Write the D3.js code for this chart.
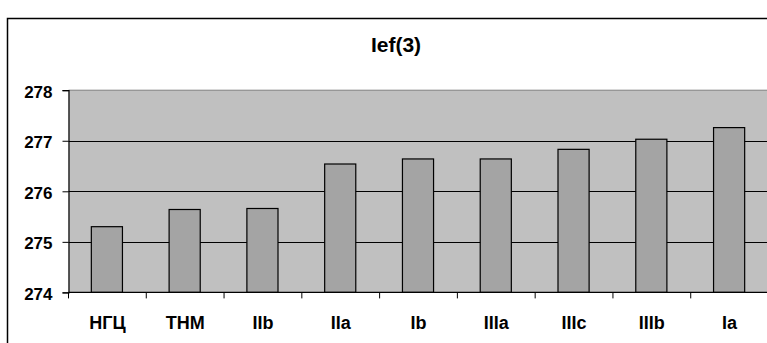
<!DOCTYPE html>
<html>
<head>
<meta charset="utf-8">
<script src="https://cdn.jsdelivr.net/npm/d3@7"></script>
<style>
  html, body { margin: 0; padding: 0; background: #fff; }
  svg { display: block; }
  text { font-family: "Liberation Sans", Arial, sans-serif; font-weight: bold; fill: #000; }
</style>
</head>
<body>
<svg id="chart" width="767" height="343"></svg>
<script>
// Ief(3) values per group
const categories = ["НГЦ", "THM", "IIb", "IIa", "Ib", "IIIa", "IIIc", "IIIb", "Ia"];
const values = [275.30, 275.64, 275.66, 276.54, 276.64, 276.64, 276.83, 277.03, 277.26];
const yTicks = [274, 275, 276, 277, 278];
const title = "Ief(3)";

const svg = d3.select("#chart");
const W = 767, H = 343;

// chart frame
svg.append("rect")
  .attr("x", 7.5).attr("y", 18.5)
  .attr("width", 800).attr("height", 400)
  .attr("fill", "#fff").attr("stroke", "#000").attr("stroke-width", 1.5);

const plot = { left: 68.5, right: 768.5, top: 90.2, bottom: 292.4 };

const x = d3.scaleBand().domain(categories).range([plot.left, plot.right]).padding(0);
const y = d3.scaleLinear().domain([274, 278]).range([plot.bottom, plot.top]);

// plot area background
svg.append("rect")
  .attr("x", plot.left).attr("y", plot.top)
  .attr("width", plot.right - plot.left).attr("height", plot.bottom - plot.top)
  .attr("fill", "#c0c0c0");

// top edge of plot area
svg.append("line")
  .attr("x1", plot.left).attr("x2", plot.right)
  .attr("y1", y(278)).attr("y2", y(278))
  .attr("stroke", "#808080").attr("stroke-width", 1);

// horizontal gridlines
svg.append("g").selectAll("line")
  .data(yTicks.filter(t => t > 274 && t < 278))
  .join("line")
  .attr("x1", plot.left).attr("x2", plot.right)
  .attr("y1", d => Math.round(y(d)) + 0.5).attr("y2", d => Math.round(y(d)) + 0.5)
  .attr("stroke", "#000").attr("stroke-width", 1);

// bars
const barFrac = 0.4;
svg.append("g").selectAll("rect")
  .data(categories.map((c, i) => ({ c, v: values[i] })))
  .join("rect")
  .attr("x", d => x(d.c) + x.bandwidth() * (1 - barFrac) / 2 - 0.5)
  .attr("y", d => y(d.v))
  .attr("width", x.bandwidth() * barFrac)
  .attr("height", d => y(274) - y(d.v))
  .attr("fill", "#a4a4a4")
  .attr("stroke", "#000").attr("stroke-width", 1.2);

// y axis
const yAxis = svg.append("g")
  .attr("transform", `translate(${plot.left},0)`)
  .call(d3.axisLeft(y).tickValues(yTicks).tickFormat(d3.format("d")).tickSize(6).tickPadding(10));
yAxis.select(".domain").attr("stroke", "#000").attr("stroke-width", 1.2);
yAxis.selectAll(".tick line").attr("stroke", "#000");
yAxis.selectAll(".tick text")
  .attr("font-size", 17).attr("font-family", null).attr("dy", "0.42em")
  .attr("fill", "#000");

// x axis with ticks at category boundaries
const xAxis = svg.append("g").attr("transform", `translate(0,${plot.bottom})`);
xAxis.append("line")
  .attr("x1", plot.left).attr("x2", plot.right)
  .attr("y1", 0).attr("y2", 0)
  .attr("stroke", "#000").attr("stroke-width", 1.2);
xAxis.selectAll("line.tk")
  .data(categories)
  .join("line").attr("class", "tk")
  .attr("x1", d => x(d)).attr("x2", d => x(d))
  .attr("y1", 0).attr("y2", 6)
  .attr("stroke", "#000");
xAxis.selectAll("text")
  .data(categories)
  .join("text")
  .attr("x", d => x(d) + x.bandwidth() / 2)
  .attr("y", 37)
  .attr("text-anchor", "middle")
  .attr("font-size", 18)
  .text(d => d);

// title
svg.append("text")
  .attr("x", 396).attr("y", 52)
  .attr("text-anchor", "middle")
  .attr("font-size", 21)
  .text(title);
</script>
</body>
</html>
